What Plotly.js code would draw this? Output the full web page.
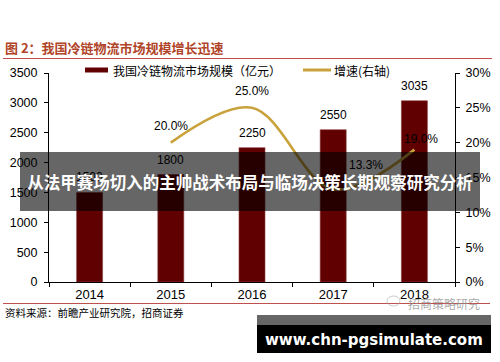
<!DOCTYPE html>
<html>
<head>
<meta charset="utf-8">
<script src="https://cdn.plot.ly/plotly-3.0.1.min.js"></script>
<style>
html,body{margin:0;padding:0;background:#fff;}
#chart{width:500px;height:362px;}
</style>
</head>
<body>
<div id="chart"></div>
<script>
const years = ['2014', '2015', '2016', '2017', '2018'];
const marketSize = [1500, 1800, 2250, 2550, 3035];
const growthRate = [null, 20.0, 25.0, 13.3, 19.0];
const leftTicks = [0, 500, 1000, 1500, 2000, 2500, 3000, 3500];
const rightTicks = [0, 5, 10, 15, 20, 25, 30];
const rightTickText = ['0%', '5%', '10%', '15%', '20%', '25%', '30%'];

const chartTitle = '图 2：我国冷链物流市场规模增长迅速';
const barName = '我国冷链物流市场规模（亿元）';
const lineName = '增速(右轴)';
const sourceText = '资料来源：前瞻产业研究院，招商证券';
const watermarkText = '招商策略研究';
const bannerText = '从法甲赛场切入的主帅战术布局与临场决策长期观察研究分析';
const siteText = 'www.chn-pgsimulate.com';

const W = 500, H = 362;
const L = 49, R = 455, T = 73, B = 282;
const px = x => (x - L) / (R - L);
const py = y => (B - y) / (B - T);

const NUM = 'Liberation Sans, Arial, sans-serif';
const CJK = 'Noto Sans CJK SC, sans-serif';
const BAR_C = '#600000';
const LINE_C = '#C9A23B';
const RED = '#C0504D';

const traces = [
  {
    type: 'bar', x: years, y: marketSize, name: barName,
    marker: {color: BAR_C, line: {color: '#8a3a3a', width: 0.6}},
    width: 0.32, showlegend: false, hoverinfo: 'skip'
  },
  {
    type: 'scatter', mode: 'lines', x: years, y: growthRate, name: lineName,
    yaxis: 'y2', line: {color: LINE_C, width: 2.6, shape: 'spline', smoothing: 1},
    connectgaps: false, showlegend: false, hoverinfo: 'skip'
  }
];

const annotations = [];
// bar value labels
years.forEach((yr, i) => {
  annotations.push({
    x: i, y: marketSize[i], xref: 'x', yref: 'y', text: String(marketSize[i]),
    showarrow: false, xanchor: 'center', yanchor: 'middle', yshift: 15,
    font: {family: NUM, size: 12, color: '#000'}
  });
});
// growth labels
const gShift = [[0,0],[0,17],[0,17],[33,24],[7,11]];
years.forEach((yr, i) => {
  if (growthRate[i] === null) return;
  annotations.push({
    x: i, y: growthRate[i], xref: 'x', yref: 'y2', text: growthRate[i].toFixed(1) + '%',
    showarrow: false, xanchor: 'center', yanchor: 'middle',
    xshift: gShift[i][0], yshift: gShift[i][1],
    font: {family: NUM, size: 12, color: '#000'}
  });
});
// title
annotations.push({
  x: px(3), y: py(48), xref: 'paper', yref: 'paper', text: '<b>' + chartTitle + '</b>',
  showarrow: false, xanchor: 'left', yanchor: 'middle',
  font: {family: CJK, size: 13, color: '#B04428'}
});
// legend texts
annotations.push({
  x: px(111), y: py(70), xref: 'paper', yref: 'paper', text: barName,
  showarrow: false, xanchor: 'left', yanchor: 'middle',
  font: {family: CJK, size: 12, color: '#000'}
});
annotations.push({
  x: px(332), y: py(70), xref: 'paper', yref: 'paper', text: lineName,
  showarrow: false, xanchor: 'left', yanchor: 'middle',
  font: {family: CJK, size: 12, color: '#000'}
});
// source
annotations.push({
  x: px(3), y: py(312), xref: 'paper', yref: 'paper', text: sourceText,
  showarrow: false, xanchor: 'left', yanchor: 'middle',
  font: {family: CJK, size: 10.5, color: '#000'}
});
// watermark
annotations.push({
  x: px(444), y: py(303), xref: 'paper', yref: 'paper', text: watermarkText,
  showarrow: false, xanchor: 'center', yanchor: 'middle',
  font: {family: CJK, size: 12, color: 'rgba(140,140,140,0.75)'}
});
// site text
annotations.push({
  x: px(374), y: py(340), xref: 'paper', yref: 'paper', text: '<b>' + siteText + '</b>',
  showarrow: false, xanchor: 'center', yanchor: 'middle',
  font: {family: 'DejaVu Sans, sans-serif', size: 15, color: '#fff'}
});
// overlay banner (drawn last so it dims everything beneath)
annotations.push({
  x: px(250), y: py(181.5), xref: 'paper', yref: 'paper', text: '<b>' + bannerText + '</b>',
  showarrow: false, xanchor: 'center', yanchor: 'middle',
  width: 460, height: 59, borderpad: 0, borderwidth: 0,
  bgcolor: 'rgba(0,0,0,0.6)', align: 'center', valign: 'middle',
  font: {family: CJK, size: 16.5, color: '#fff'}
});

const shapes = [
  // red rules
  {type: 'line', xref: 'paper', yref: 'paper', x0: px(3), x1: px(492), y0: py(58.5), y1: py(58.5),
   line: {color: RED, width: 1.2}},
  {type: 'line', xref: 'paper', yref: 'paper', x0: px(3), x1: px(490), y0: py(303.5), y1: py(303.5),
   line: {color: RED, width: 1.2}},
  // legend marks
  {type: 'rect', xref: 'paper', yref: 'paper', x0: px(85), x1: px(108), y0: py(72.5), y1: py(67.5),
   fillcolor: BAR_C, line: {width: 0}},
  {type: 'line', xref: 'paper', yref: 'paper', x0: px(303), x1: px(331), y0: py(70), y1: py(70),
   line: {color: LINE_C, width: 3}},
  // watermark icon
  {type: 'circle', xref: 'paper', yref: 'paper', x0: px(387), x1: px(400), y0: py(306), y1: py(296),
   line: {color: 'rgba(170,170,170,0.6)', width: 1}},
  // site banner
  {type: 'rect', xref: 'paper', yref: 'paper', x0: px(257), x1: px(491), y0: py(315), y1: py(325),
   fillcolor: '#666666', line: {width: 0}},
  {type: 'rect', xref: 'paper', yref: 'paper', x0: px(257), x1: px(491), y0: py(325), y1: py(353),
   fillcolor: '#000000', line: {width: 0}}
];

const layout = {
  width: W, height: H,
  margin: {l: L, r: W - R, t: T, b: H - B, pad: 0},
  paper_bgcolor: '#fff', plot_bgcolor: '#fff',
  showlegend: false,
  xaxis: {
    type: 'category', range: [-0.5, 4.5], showline: true, linecolor: '#000', linewidth: 1,
    ticks: 'outside', tickson: 'boundaries', ticklen: 4, tickcolor: '#000',
    showgrid: false, zeroline: false, fixedrange: true,
    tickfont: {family: NUM, size: 13, color: '#000'}
  },
  yaxis: {
    range: [0, 3500], tickmode: 'array', tickvals: leftTicks, showline: true, linecolor: '#000', linewidth: 1,
    ticks: 'outside', ticklen: 4, tickcolor: '#000', showgrid: false, zeroline: false,
    tickfont: {family: NUM, size: 12.5, color: '#000'}, ticklabelstandoff: 4
  },
  yaxis2: {
    range: [0, 30], tickmode: 'array', tickvals: rightTicks, ticktext: rightTickText,
    overlaying: 'y', side: 'right',
    showline: true, linecolor: '#000', linewidth: 1, ticks: 'outside', ticklen: 4, tickcolor: '#000',
    showgrid: false, zeroline: false,
    tickfont: {family: NUM, size: 12.5, color: '#000'}, ticklabelstandoff: 3
  },
  bargap: 0,
  annotations: annotations,
  shapes: shapes
};

Plotly.newPlot('chart', traces, layout, {displayModeBar: false, staticPlot: true});
</script>
</body>
</html>
